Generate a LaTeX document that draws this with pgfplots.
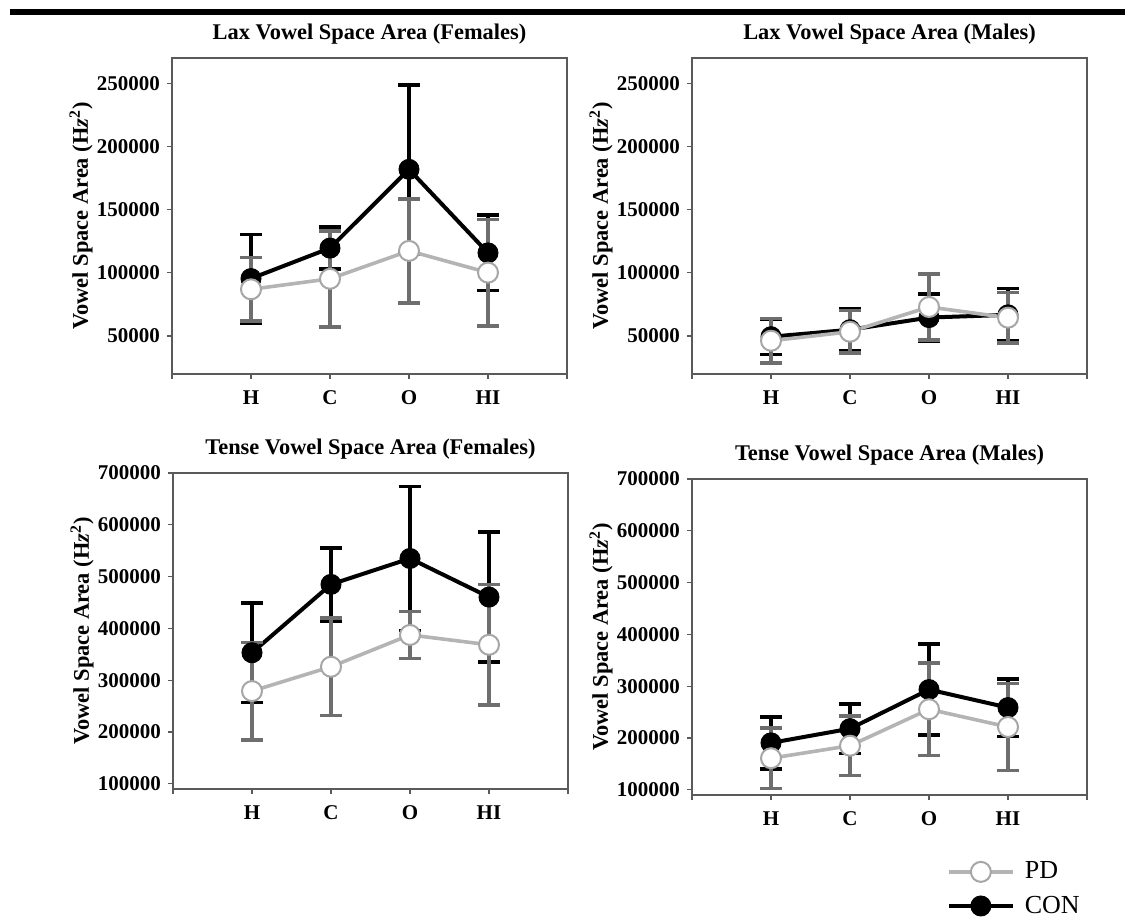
\documentclass[border=0pt]{standalone}
\usepackage{fontspec}
\setmainfont{Liberation Serif}
\usepackage{pgfplots}
\usepackage{pgfplotstable}
\pgfplotsset{compat=1.18}

\definecolor{pdline}{HTML}{B4B4B4}
\definecolor{pdedge}{HTML}{A6A6A6}
\definecolor{pderr}{HTML}{6E6E6E}
\definecolor{framec}{HTML}{5A5A5A}

% x: 1=H 2=C 3=O 4=HI ; e = error bar half-length
\pgfplotstableread{
x y e
1 95500 35000
2 119600 16700
3 181900 66800
4 115800 29800
}\laxFcon
\pgfplotstableread{
x y e
1 87000 25000
2 95300 38000
3 117400 41200
4 100200 42000
}\laxFpd
\pgfplotstableread{
x y e
1 49500 14000
2 55000 16700
3 64650 18600
4 66800 20800
}\laxMcon
\pgfplotstableread{
x y e
1 46300 17500
2 53400 16700
3 73000 26000
4 64550 19850
}\laxMpd
\pgfplotstableread{
x y e
1 353000 96000
2 485000 70500
3 535000 139000
4 460500 125500
}\tenseFcon
\pgfplotstableread{
x y e
1 279000 94000
2 326000 94000
3 387400 45400
4 368400 116000
}\tenseFpd
\pgfplotstableread{
x y e
1 190600 50000
2 218000 48000
3 293500 87700
4 258700 55500
}\tenseMcon
\pgfplotstableread{
x y e
1 161000 58400
2 185150 57500
3 255500 89000
4 221300 84000
}\tenseMpd

\pgfplotsset{
  panel/.style={
    scale only axis, width=197.5pt, height=158pt, anchor=south west,
    xmin=0, xmax=5, xtick={0,...,5}, xticklabels={,H,C,O,HI,},
    axis line style={framec, line width=0.6pt},
    tick style={framec, line width=0.6pt},
    tick align=outside, major tick length=2.5pt,
    xtick pos=lower, ytick pos=left,
    scaled y ticks=false,
    yticklabel style={/pgf/number format/fixed, /pgf/number format/1000 sep={}},
    /pgf/number format/assume math mode=true,
    tick label style={font=\fontsize{10.5}{12}\selectfont\bfseries},
    xticklabel style={yshift=-2.5pt},
    title style={font=\fontsize{11.2}{13}\selectfont\bfseries, yshift=-2.5pt},
    ylabel={Vowel Space Area (H\textit{z}\textsuperscript{2})},
    ylabel style={font=\fontsize{11.2}{13}\selectfont\bfseries,
      at={(axis description cs:-0.23,0.5)}, anchor=center},
  },
  con err/.style={draw=none, mark=none, forget plot,
    error bars/.cd, y dir=both, y explicit,
    error bar style={draw=black, line width=1.8pt},
    error mark options={rotate=90, mark size=5.5pt, line width=1.8pt, draw=black}},
  pd err/.style={draw=none, mark=none, forget plot,
    error bars/.cd, y dir=both, y explicit,
    error bar style={draw=pderr, line width=1.8pt},
    error mark options={rotate=90, mark size=5.5pt, line width=1.8pt, draw=pderr}},
  con line/.style={black, line width=2pt, mark=*, mark size=5pt,
    mark options={fill=black, draw=black, line width=0.5pt}},
  pd line/.style={pdline, line width=1.8pt, mark=*, mark size=5pt,
    mark options={fill=white, draw=pdedge, line width=1pt}},
}

\begin{document}
\begin{tikzpicture}
\useasboundingbox (0,0) rectangle (564.5pt,462pt);
\draw[line width=3pt] (5pt,456pt) -- (562.5pt,456pt);

% Lax, females
\begin{axis}[panel, at={(86pt,275pt)}, title={Lax Vowel Space Area (Females)},
  ymin=20000, ymax=270000, ytick={50000,100000,150000,200000,250000}]
\addplot[con err] table[x=x, y=y, y error=e] {\laxFcon};
\addplot[con line] table[x=x, y=y] {\laxFcon};
\addplot[pd err] table[x=x, y=y, y error=e] {\laxFpd};
\addplot[pd line] table[x=x, y=y] {\laxFpd};
\end{axis}

% Lax, males
\begin{axis}[panel, at={(346pt,275pt)}, title={Lax Vowel Space Area (Males)},
  ymin=20000, ymax=270000, ytick={50000,100000,150000,200000,250000}]
\addplot[con err] table[x=x, y=y, y error=e] {\laxMcon};
\addplot[con line] table[x=x, y=y] {\laxMcon};
\addplot[pd err] table[x=x, y=y, y error=e] {\laxMpd};
\addplot[pd line] table[x=x, y=y] {\laxMpd};
\end{axis}

% Tense, females
\begin{axis}[panel, at={(86.5pt,67.5pt)}, title={Tense Vowel Space Area (Females)},
  ymin=90000, ymax=700000, ytick={100000,200000,...,700000}]
\addplot[con err] table[x=x, y=y, y error=e] {\tenseFcon};
\addplot[con line] table[x=x, y=y] {\tenseFcon};
\addplot[pd err] table[x=x, y=y, y error=e] {\tenseFpd};
\addplot[pd line] table[x=x, y=y] {\tenseFpd};
\end{axis}

% Tense, males (carries the legend)
\begin{axis}[panel, at={(346pt,64.5pt)}, title={Tense Vowel Space Area (Males)},
  ymin=90000, ymax=700000, ytick={100000,200000,...,700000},
  reverse legend,
  legend image code/.code={\draw[mark repeat=2, mark phase=2, #1]
    plot coordinates {(0pt,0pt) (16pt,0pt) (32pt,0pt)};},
  legend style={at={(axis description cs:0.629,-0.185)}, anchor=north west,
    draw=none, fill=none, font=\fontsize{13}{15}\selectfont, row sep=3pt,
    /tikz/every odd column/.append style={column sep=3pt}},
  legend cell align=left]
\addplot[con err] table[x=x, y=y, y error=e] {\tenseMcon};
\addplot[con line] table[x=x, y=y] {\tenseMcon};
\addlegendentry{CON}
\addplot[pd err] table[x=x, y=y, y error=e] {\tenseMpd};
\addplot[pd line] table[x=x, y=y] {\tenseMpd};
\addlegendentry{PD}
\end{axis}
\end{tikzpicture}
\end{document}
